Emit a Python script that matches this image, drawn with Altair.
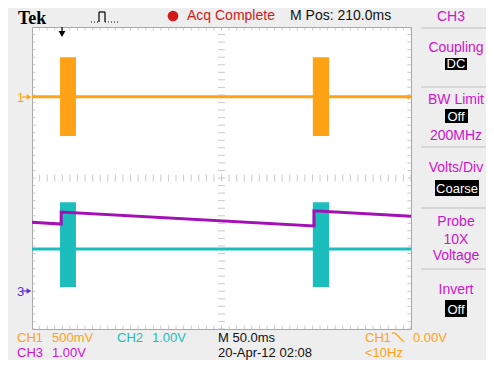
import altair as alt
import pandas as pd

# ---------------- data (screen divisions: x 0..10 @ 50 ms/div, y -4..4) -------------
burst_start = [0.74, 7.41]
burst_end = [1.16, 7.84]
ch1_level = 2.15
ch1_burst_top = 3.20
ch1_burst_bottom = 1.11
ch2_level = -1.88
ch2_burst_top = -0.64
ch2_burst_bottom = -2.89
ch3_t = [0.0, 0.77, 0.77, 7.44, 7.44, 10.0]
ch3_v = [-1.17, -1.22, -0.90, -1.27, -0.87, -1.01]

ORANGE = "#FFA216"
TEAL = "#1CBDBD"
PURPLE = "#A311B5"
MAGENTA = "#CC14CC"
RED = "#D11A1A"
MARK3 = "#5B2FD1"
GRID = "#b4b4b4"

PW, PH = 379, 302          # plot area
OX, OY = 32, 27            # page position of plot origin

xs = alt.Scale(domain=[0, 10], nice=False, zero=False)
ys = alt.Scale(domain=[-4, 4], nice=False, zero=False)

# ---------------- graticule ----------------
frame = pd.DataFrame({"x": [0, 10], "y": [-4, 4]})
grid_layer = alt.Chart(frame).mark_point(opacity=0).encode(
    x=alt.X("x:Q", scale=xs, axis=alt.Axis(values=list(range(11)), grid=True, gridColor=GRID,
                                             gridDash=[1, 6.58], labels=False, ticks=False,
                                             domain=False, title=None)),
    y=alt.Y("y:Q", scale=ys, axis=alt.Axis(values=list(range(-4, 5)), grid=True, gridColor=GRID,
                                             gridDash=[1, 6.55], labels=False, ticks=False,
                                             domain=False, title=None)),
)

hx = [round(i * 0.2, 2) for i in range(51)]
vy = [round(-4 + j * 0.2, 2) for j in range(41)]
ticks_h = pd.DataFrame({"x": hx * 3, "y": [0] * 51 + [4] * 51 + [-4] * 51})
ticks_v = pd.DataFrame({"x": [5] * 41 + [0] * 41 + [10] * 41, "y": vy * 3})
tick_h_layer = alt.Chart(ticks_h).mark_tick(orient="vertical", size=7, thickness=1, color=GRID, clip=True).encode(
    x=alt.X("x:Q", scale=xs, axis=None), y=alt.Y("y:Q", scale=ys, axis=None))
tick_v_layer = alt.Chart(ticks_v).mark_tick(orient="horizontal", size=7, thickness=1, color=GRID, clip=True).encode(
    x=alt.X("x:Q", scale=xs, axis=None), y=alt.Y("y:Q", scale=ys, axis=None))

# ---------------- traces ----------------
def bursts(top, bottom):
    return pd.DataFrame({"x": burst_start, "x2": burst_end,
                         "y": [top] * len(burst_start), "y2": [bottom] * len(burst_start)})

def burst_layer(df, color):
    return alt.Chart(df).mark_rect(color=color).encode(
        x=alt.X("x:Q", scale=xs, axis=None), x2="x2:Q",
        y=alt.Y("y:Q", scale=ys, axis=None), y2="y2:Q")

def level_layer(level, color):
    return alt.Chart(pd.DataFrame({"x": [0], "x2": [10], "y": [level]})).mark_rule(
        color=color, strokeWidth=3).encode(
        x=alt.X("x:Q", scale=xs, axis=None), x2="x2:Q", y=alt.Y("y:Q", scale=ys, axis=None))

ch2_b = burst_layer(bursts(ch2_burst_top, ch2_burst_bottom), TEAL)
ch2_l = level_layer(ch2_level, TEAL)
ch1_b = burst_layer(bursts(ch1_burst_top, ch1_burst_bottom), ORANGE)
ch1_l = level_layer(ch1_level, ORANGE)

ch3_df = pd.DataFrame({"t": ch3_t, "v": ch3_v, "i": list(range(len(ch3_t)))})
ch3_l = alt.Chart(ch3_df).mark_line(color=PURPLE, strokeWidth=3, strokeJoin="miter").encode(
    x=alt.X("t:Q", scale=xs, axis=None), y=alt.Y("v:Q", scale=ys, axis=None), order="i:Q")

# ---------------- annotations (page pixel positions) ----------------
def P(df):
    df = df.copy()
    for c in ["x", "x2"]:
        if c in df:
            df[c] = df[c] - OX
    for c in ["y", "y2"]:
        if c in df:
            df[c] = df[c] - OY
    return df

R1, R2 = 342, 357   # baselines of the two status rows

left_texts = pd.DataFrame([
    ("Acq Complete", 187, 20, RED, 14),
    ("M Pos: 210.0ms", 290, 20, "#111111", 14),
    ("CH1", 17, R1, ORANGE, 13), ("500mV", 52, R1, ORANGE, 13),
    ("CH2", 117, R1, TEAL, 13), ("1.00V", 152, R1, TEAL, 13),
    ("M 50.0ms", 218, R1, "#111111", 13),
    ("CH1", 365, R1, ORANGE, 13), ("0.00V", 413, R1, ORANGE, 13),
    ("CH3", 17, R2, MAGENTA, 13), ("1.00V", 52, R2, MAGENTA, 13),
    ("20-Apr-12 02:08", 218, R2, "#111111", 13),
    ("<10Hz", 365, R2, ORANGE, 13),
    ("1", 17, 102, ORANGE, 13),
    ("3", 17, 296, MARK3, 13),
], columns=["text", "x", "y", "color", "size"])

center_texts = pd.DataFrame([
    ("CH3", 451, 21, MAGENTA, 14),
    ("Coupling", 456, 52, MAGENTA, 14),
    ("DC", 456, 68, "white", 13),
    ("BW Limit", 456, 104, MAGENTA, 14),
    ("Off", 456, 121, "white", 13),
    ("200MHz", 456, 140, MAGENTA, 14),
    ("Volts/Div", 456, 172, MAGENTA, 14),
    ("Coarse", 457, 193, "white", 13),
    ("Probe", 456, 226, MAGENTA, 14),
    ("10X", 456, 244, MAGENTA, 14),
    ("Voltage", 456, 260, MAGENTA, 14),
    ("Invert", 456, 294, MAGENTA, 14),
    ("Off", 456, 314, "white", 13),
], columns=["text", "x", "y", "color", "size"])

boxes = pd.DataFrame([
    (445, 467, 58, 70), (445, 468, 109, 123), (435, 479, 180, 196), (445, 467, 300, 317),
], columns=["x", "x2", "y", "y2"])

seps = pd.DataFrame([
    (421, 491, 28, 28, "#bdbdbd"), (421, 491, 87, 87, "#bdbdbd"), (421, 491, 147, 147, "#bdbdbd"),
    (421, 491, 208, 208, "#bdbdbd"), (421, 491, 269, 269, "#bdbdbd"),
    # trigger marker stem, channel marker stems
    (62, 62, 27, 31, "#000000"),
    (22, 27, 97, 97, ORANGE), (22, 27, 291, 291, MARK3),
    # acquisition pulse icon
    (99, 99, 12, 22, "#000000"), (99, 105, 12, 12, "#000000"), (105, 105, 12, 22, "#000000"),
    # falling-edge slope symbol
    (392, 395, R1 - 9, R1 - 9, ORANGE), (395, 404, R1 - 9, R1, ORANGE),
], columns=["x", "x2", "y", "y2", "color"])

dots = pd.DataFrame([
    (91, 99, 22, 22), (105, 119, 22, 22),
], columns=["x", "x2", "y", "y2"])

points = pd.DataFrame([
    (62, 34, "triangle-down", "#000000", 45),
    (29, 97, "triangle-right", ORANGE, 30),
    (29, 291, "triangle-right", MARK3, 30),
    (407, 97, "triangle-left", ORANGE, 25),
    (173, 16, "circle", RED, 115),
], columns=["x", "y", "shape", "color", "size"])

def px_enc(**kw):
    return dict(x=alt.X("x:Q", scale=None, axis=None), y=alt.Y("y:Q", scale=None, axis=None), **kw)

box_layer = alt.Chart(P(boxes)).mark_rect(color="black").encode(
    x=alt.X("x:Q", scale=None, axis=None), x2="x2:Q", y=alt.Y("y:Q", scale=None, axis=None), y2="y2:Q")
sep_layer = alt.Chart(P(seps)).mark_rule(strokeWidth=1.2).encode(
    x=alt.X("x:Q", scale=None, axis=None), x2="x2:Q", y=alt.Y("y:Q", scale=None, axis=None), y2="y2:Q",
    color=alt.Color("color:N", scale=None))
dot_layer = alt.Chart(P(dots)).mark_rule(strokeWidth=1, strokeDash=[1, 2], color="black").encode(
    x=alt.X("x:Q", scale=None, axis=None), x2="x2:Q", y=alt.Y("y:Q", scale=None, axis=None), y2="y2:Q")
pt_layer = alt.Chart(P(points)).mark_point(filled=True, opacity=1).encode(
    **px_enc(shape=alt.Shape("shape:N", scale=None), color=alt.Color("color:N", scale=None),
             size=alt.Size("size:Q", scale=None)))
lt_layer = alt.Chart(P(left_texts)).mark_text(align="left", baseline="alphabetic", font="Liberation Sans").encode(
    **px_enc(text="text:N", color=alt.Color("color:N", scale=None), size=alt.Size("size:Q", scale=None)))
ct_layer = alt.Chart(P(center_texts)).mark_text(align="center", baseline="alphabetic", font="Liberation Sans").encode(
    **px_enc(text="text:N", color=alt.Color("color:N", scale=None), size=alt.Size("size:Q", scale=None)))
tek_layer = alt.Chart(P(pd.DataFrame({"text": ["Tek"], "x": [18], "y": [24]}))).mark_text(
    align="left", baseline="alphabetic", font="Liberation Serif", fontWeight="bold", fontSize=18,
    color="black").encode(**px_enc(text="text:N"))

chart = alt.layer(
    grid_layer, tick_h_layer, tick_v_layer,
    ch2_b, ch2_l, ch3_l, ch1_b, ch1_l,
    box_layer, sep_layer, dot_layer, pt_layer, lt_layer, ct_layer, tek_layer,
).properties(
    width=PW, height=PH,
    padding={"left": OX - 8, "top": OY - 8, "right": 494 - 8 - OX - PW, "bottom": 368 - 8 - OY - PH},
    autosize=alt.AutoSizeParams(type="none"),
).configure(background="#EEEEEE").configure_view(fill="white", stroke="#a8a8a8", strokeWidth=1)

chart.save("out.html", embed_options={"renderer": "svg", "actions": False})
